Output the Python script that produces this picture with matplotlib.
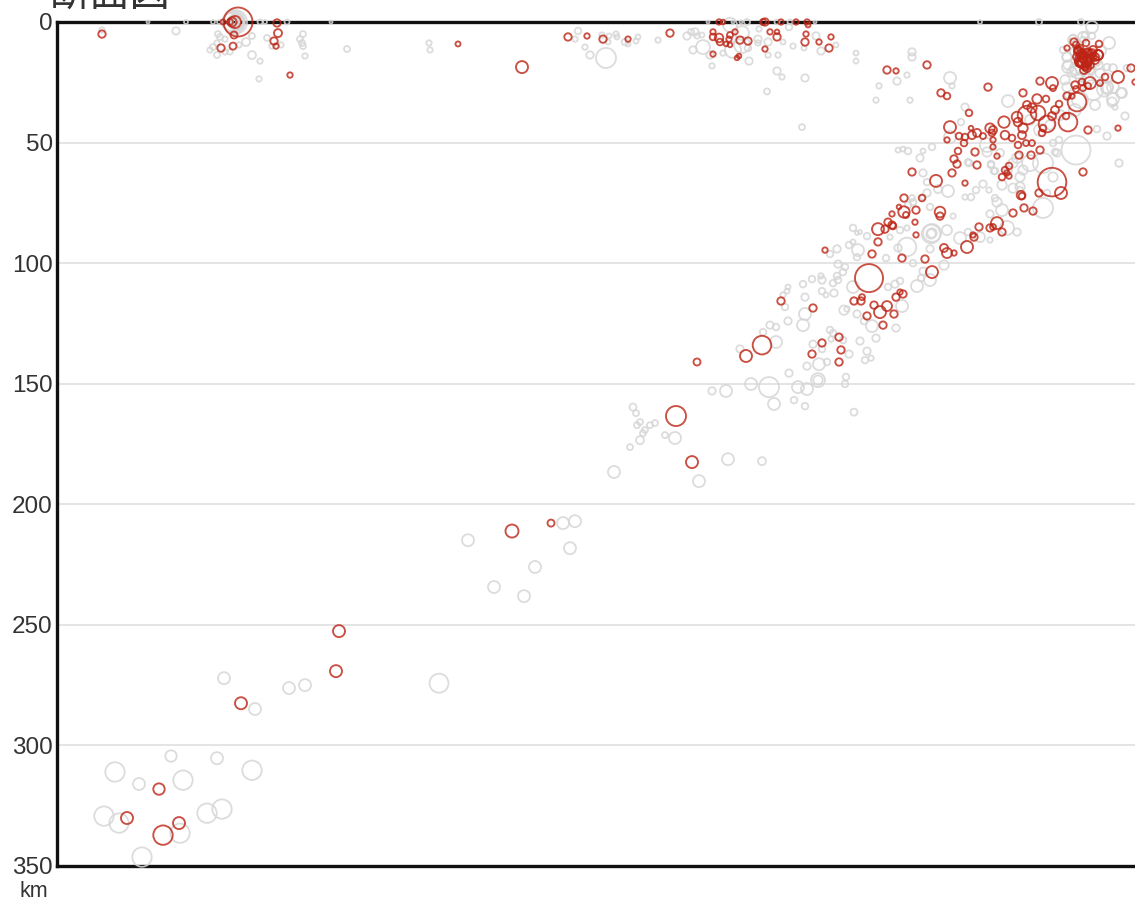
import numpy as np
import matplotlib
matplotlib.use('Agg')
import matplotlib.pyplot as plt

# 断面図: epicentre distance along the section, depth in km, circle radius
depth_ticks = [0, 50, 100, 150, 200, 250, 300, 350]

red_x = [102, 458, 522, 568, 587, 603, 628, 670, 223, 230,
         232, 235, 238, 234, 221, 233, 277, 278, 274, 276,
         290, 713, 713, 719, 720, 729, 735, 730, 726, 730,
         740, 748, 713, 739, 737, 719, 723, 765, 763, 781,
         796, 807, 808, 770, 777, 777, 806, 805, 819, 831,
         829, 765, 887, 896, 927, 941, 947, 988, 969, 950,
         947, 959, 965, 964, 972, 971, 977, 983, 990, 993,
         992, 1004, 1005, 1012, 993, 993, 975, 958, 954, 957,
         977, 997, 1019, 1031, 1040, 1018, 1026, 1032, 1022, 1023,
         1018, 1017, 1027, 1037, 1023, 1040, 1052, 1053, 1046, 1027,
         1032, 1038, 1047, 1043, 1042, 1052, 1059, 1055, 1067, 1072,
         1077, 1068, 1066, 1088, 1118, 1075, 1082, 1090, 1083, 1088,
         1076, 1100, 1105, 1118, 1131, 1135, 1074, 1067, 1086, 1099,
         1078, 1098, 1093, 912, 936, 952, 965, 1005, 1009, 1002,
         1009, 1007, 1021, 1039, 1052, 1061, 1083, 904, 922, 899,
         892, 904, 906, 916, 940, 940, 915, 888, 892, 878,
         885, 916, 878, 872, 902, 925, 944, 947, 825, 932,
         869, 781, 813, 854, 861, 862, 900, 903, 896, 874,
         887, 880, 894, 867, 883, 839, 822, 762, 746, 812,
         841, 839, 697, 676, 692, 551, 512, 339, 336, 241,
         159, 127, 179, 163, 1083, 1078, 1088, 1092, 1080, 1085,
         1086, 1082, 1090, 1080, 1084, 1088, 1076, 1095, 1083, 1087,
         1022, 1024, 1033, 1013, 979, 990, 997, 1002, 993, 974,
         967, 954, 973, 893, 1078, 1093, 1098, 1087, 1077, 1082,
         1087, 1083, 1090, 1095, 1080, 1083, 1090, 1085, 1083, 1081]
red_depth = [5, 9.1, 18.7, 6.2, 5.8, 7.1, 7.1, 4.6, 0, 0,
             0, 0, 0, 5.4, 10.8, 10, 0.4, 4.6, 7.9, 10,
             22, 4.1, 6.2, 6.6, 8.3, 7.1, 4.1, 5.4, 9.1, 9.5,
             7.5, 7.9, 13.3, 14.1, 14.9, 0, 0, 0, 0, 0,
             0, 0, 1.2, 4.1, 4.1, 6.2, 5, 8.3, 8.3, 6.2,
             10.8, 11.2, 19.9, 20.3, 17.8, 29.4, 30.7, 27, 37.7, 43.6,
             48.9, 47.3, 47.7, 50.2, 46.9, 44, 46, 47.3, 44, 44.8,
             46, 41.5, 46.9, 48.1, 48.9, 51.8, 53.9, 53.5, 56.8, 58.9,
             59.3, 55.6, 55.2, 55.2, 53.1, 51, 50.2, 50.2, 46.9, 44,
             41.5, 39.4, 38.6, 31.9, 29.4, 24.5, 25.3, 27.4, 31.9, 34.4,
             35.7, 37.7, 42.3, 44, 46, 39, 34, 36.5, 30.7, 30.7,
             33.2, 41.5, 39, 44.8, 44, 26.1, 24.9, 25.3, 27.4, 26.5,
             27.8, 25.3, 22.8, 22.8, 19.1, 24.9, 8.3, 10.8, 8.7, 9.1,
             11.6, 13.7, 14.5, 62.2, 65.9, 62.6, 66.8, 61.4, 59.7, 64.3,
             63.9, 62.6, 71.8, 70.9, 66.4, 70.9, 62.2, 73, 73, 76.7,
             79.6, 78.8, 80, 78, 78.8, 80.5, 83, 83, 84.2, 85.9,
             85.9, 88.3, 91.2, 96.2, 97.9, 98.3, 93.7, 95.8, 94.6, 103.7,
             106.2, 115.7, 118.6, 115.7, 115.7, 114.1, 112, 112.8, 114.1, 117.4,
             117.8, 120.3, 121.1, 121.9, 125.7, 130.7, 133.1, 134, 138.5, 137.7,
             136, 141, 141, 163.4, 182.5, 207.8, 211.1, 252.6, 269.2, 282.5,
             318.1, 330.1, 332.2, 337.2, 14.5, 12.4, 15.8, 12.9, 16.6, 18.2,
             15.8, 13.7, 17.8, 10.8, 19.9, 12.4, 9.5, 15.8, 16.6, 19.1,
             72.2, 77.1, 78.4, 79.2, 85, 85.4, 83.4, 87.1, 85, 89.2,
             93.3, 95.8, 88.3, 84.6, 11.6, 11.6, 13.7, 12.9, 14.5, 17,
             17, 14.9, 14.9, 14.5, 12.9, 12.4, 12.9, 18.7, 15.8, 16.6]
red_size = [3.7, 2.5, 6, 3.7, 2.7, 3.7, 2.7, 3.7, 2.5, 3,
            4.5, 6, 14.5, 3.5, 3.7, 3.5, 3.7, 4, 3.7, 2.7,
            2.7, 2.7, 3.3, 4.3, 3.3, 2.7, 2.7, 3, 2.3, 2.3,
            3.7, 3.7, 2.7, 2.3, 2.3, 2.7, 2.3, 3.7, 3, 2.7,
            2.7, 2.7, 2.5, 2.7, 2.3, 3.7, 2.7, 3.7, 2.7, 2.7,
            3.7, 2.7, 3.7, 2.7, 3.7, 3.7, 3.3, 3.7, 3.3, 6,
            2.7, 3.3, 3.3, 3.3, 4, 2.3, 4, 3, 4.7, 4,
            3.3, 5.7, 4.3, 3.3, 2.7, 2.7, 3.7, 3.3, 3.7, 3.7,
            3.7, 2.7, 3.7, 3.7, 3.7, 3.3, 3, 3, 4, 4.7,
            4.3, 5.3, 9.3, 4.7, 3.7, 3.7, 6, 3, 3.3, 4,
            4.7, 7.3, 8.3, 3.3, 3.3, 4, 3.3, 4, 3.7, 2.7,
            9.3, 9.3, 3.3, 3.7, 2.7, 3.7, 3.3, 6, 3, 3,
            3, 3, 3.3, 6, 3.7, 2.7, 3.7, 2.7, 3.3, 3.3,
            3.3, 5, 3.3, 3.7, 6, 3.7, 2.7, 3.3, 3.3, 3.3,
            2.7, 2.7, 4.3, 3.7, 14.3, 6, 3.7, 3.7, 3.3, 2.3,
            2.7, 5.7, 3, 3.7, 5.3, 3.7, 2.7, 3.7, 3.7, 6,
            3.7, 2.7, 3.7, 3.7, 3.7, 3.7, 4, 5, 2.7, 6,
            14, 3.7, 3.7, 3.7, 3.7, 3, 2.7, 3.7, 3.7, 3.7,
            5, 6, 3.7, 3.7, 3.7, 3.7, 3.7, 9.3, 6, 3.7,
            3.7, 3.7, 3.5, 10, 6, 3.5, 6.5, 6, 6, 6,
            5.7, 6, 6, 9.7, 5, 4, 5, 4, 5, 4,
            5, 4, 4, 3.3, 4, 3.7, 3.3, 4, 5, 4,
            3.3, 3.7, 3.7, 3.7, 3.7, 3.7, 6, 3.7, 3, 3.7,
            6, 2.7, 2.7, 3.3, 4, 4, 5, 4, 4, 4.7,
            4.7, 4.7, 4, 4, 3.3, 3, 3.3, 3.3, 8, 5]

gray_x = [148, 186, 213, 219, 260, 265, 287, 331, 235, 176,
          218, 220, 225, 246, 252, 267, 303, 300, 302, 303,
          305, 347, 252, 260, 259, 210, 213, 217, 225, 230,
          217, 239, 281, 272, 102, 429, 430, 578, 575, 585,
          590, 606, 602, 609, 616, 617, 608, 625, 628, 636,
          638, 658, 687, 691, 695, 697, 702, 693, 703, 710,
          723, 733, 742, 748, 749, 712, 730, 742, 758, 768,
          758, 768, 778, 783, 793, 777, 782, 805, 821, 816,
          804, 836, 856, 856, 759, 789, 747, 777, 790, 708,
          733, 741, 815, 802, 767, 912, 912, 907, 897, 879,
          876, 910, 950, 952, 965, 1008, 961, 987, 932, 898,
          903, 908, 923, 920, 950, 1076, 1057, 1053, 1059, 1097,
          1107, 1125, 1115, 1113, 1121, 1119, 1092, 1092, 1109, 1085,
          1073, 1067, 1068, 1072, 1065, 1083, 1093, 1107, 1080, 1100,
          1090, 1113, 1127, 1063, 1083, 980, 1039, 1081, 948, 938,
          923, 927, 969, 983, 976, 965, 991, 994, 1002, 1020,
          1013, 1030, 1053, 1020, 1047, 853, 857, 860, 867, 849,
          853, 858, 837, 830, 857, 886, 907, 898, 931, 931,
          930, 913, 923, 944, 930, 917, 921, 838, 845, 843,
          837, 838, 833, 821, 822, 812, 803, 788, 787, 783,
          822, 826, 834, 805, 785, 805, 788, 803, 770, 776,
          763, 776, 740, 853, 888, 895, 900, 902, 844, 847,
          857, 864, 872, 896, 876, 860, 830, 833, 831, 843,
          813, 822, 849, 867, 871, 865, 827, 819, 807, 789,
          846, 845, 818, 818, 798, 807, 769, 751, 726, 712,
          774, 794, 805, 854, 633, 636, 640, 637, 645, 650,
          655, 640, 643, 665, 630, 614, 675, 728, 762, 699,
          575, 563, 570, 468, 535, 494, 524, 439, 305, 289,
          224, 255, 115, 171, 217, 252, 139, 183, 104, 119,
          207, 222, 180, 142, 1075, 1101, 1095, 1088, 1078, 1104,
          927, 923, 912, 908, 930, 953, 971, 989, 968, 991,
          995, 1013, 1020, 997, 995, 1002, 990, 1043, 1017, 1007,
          980, 960, 968, 947, 932, 932, 890, 907, 913, 900,
          990, 1023, 1008, 1017, 1000, 987, 1055, 1043, 1083, 1073,
          1067, 1068, 1077, 1090, 1098, 1107, 1113, 1122, 1107, 1107,
          1080, 1067, 1068, 1112, 1060, 1050, 1075, 1095, 1040, 1030,
          233, 236, 238, 235, 231, 234, 237, 232, 236, 234]
gray_depth = [0, 0, 0, 0, 0, 0, 0, 0, 0, 3.7,
              5, 6.2, 7.1, 8.3, 5.8, 6.6, 5, 7.1, 8.7, 10,
              14.1, 11.2, 13.7, 16.2, 23.6, 11.6, 10.4, 13.7, 12.4, 12.4,
              8.7, 9.5, 9.5, 10, 3.3, 8.7, 11.6, 3.7, 7.1, 10.4,
              13.7, 14.9, 5.4, 5.8, 5, 6.2, 8.3, 8.3, 9.1, 7.9,
              6.2, 7.5, 5.8, 4.1, 4.1, 5.8, 5.4, 11.6, 10.4, 13.7,
              12.9, 11.6, 9.5, 10.8, 16.2, 18.2, 1.2, 4.6, 7.1, 8.3,
              8.7, 13.7, 13.7, 8.3, 10, 20.3, 22.8, 23.2, 12, 5.8,
              10.8, 9.5, 12.9, 16.2, 2.9, 2.1, 0, 0, 0, 0,
              0, 0, 0, 43.6, 28.8, 12.4, 14.5, 22, 24.5, 26.5,
              32.4, 32.4, 23.2, 26.5, 35.3, 32.8, 41.5, 51, 51.8, 53.1,
              52.7, 53.5, 53.5, 56.4, 47.7, 53.1, 54.3, 50.2, 48.9, 44.4,
              47.3, 39, 35.3, 31.9, 29.4, 58.5, 2.1, 5.8, 8.7, 5.4,
              6.6, 14.5, 17.8, 20.7, 24, 18.7, 28.2, 27, 22.8, 21.2,
              19.9, 19.1, 19.1, 11.6, 7.5, 0, 0, 0, 70.1, 69.3,
              62.6, 70.9, 58.5, 67.2, 69.7, 72.6, 59.3, 61.8, 67.6, 64.3,
              58.5, 58.5, 64.3, 69.7, 70.9, 85.4, 87.5, 87.1, 88.8, 92.5,
              91.2, 94.6, 94.1, 96.2, 97.5, 97.9, 93.3, 93.7, 87.9, 87.9,
              94.1, 100, 103.3, 100.8, 107, 109.5, 106.2, 100.4, 101.6, 103.7,
              105.3, 107, 108.3, 105.3, 107, 106.6, 108.7, 109.9, 111.6, 113.2,
              111.6, 113.2, 112.4, 114.1, 118.2, 121.1, 124, 125.7, 125.7, 126.5,
              128.6, 132.7, 135.6, 109.9, 109.9, 108.7, 107.4, 117.8, 119.5, 119,
              121.1, 124, 126.1, 126.9, 131.1, 132.3, 127.7, 129, 131.5, 131.9,
              133.6, 135.6, 137.7, 136.5, 139.4, 140.2, 141, 141.9, 142.7, 145.6,
              147.2, 150.1, 148.5, 148.5, 151.4, 152.2, 151.4, 150.1, 153, 153,
              158.4, 156.8, 159.3, 161.8, 159.7, 162.2, 165.9, 167.2, 169.2, 167.2,
              166.3, 173.4, 170.5, 171.3, 176.3, 186.6, 172.5, 181.3, 182.1, 190.4,
              207, 207.8, 218.2, 214.9, 226, 234.3, 238.1, 274.2, 275, 276.2,
              272.1, 284.9, 311, 304.4, 305.3, 310.3, 316, 314.4, 329.3, 332.2,
              328.1, 326.4, 336.4, 346.3, 12.5, 12, 16, 24, 20, 28,
              66.4, 72.6, 73, 75.9, 76.7, 80.5, 72.6, 69.7, 58.1, 58.9,
              61.8, 68.9, 68.4, 74.7, 73, 78, 79.6, 77.1, 87.1, 85.4,
              89.2, 89.6, 87.1, 86.3, 87.5, 87.5, 89.2, 85.4, 74.7, 86.3,
              90.4, 61.4, 61.4, 56.4, 54.3, 53.9, 53.9, 58.5, 6.2, 7.5,
              14.5, 18.7, 19.1, 19.9, 17.8, 18.7, 27, 29.4, 23.2, 27.4,
              32.4, 27, 30.3, 33.2, 38.6, 42.7, 36.5, 34.4, 44.8, 40.6,
              0, 0, 0, 0, 0, 0, 0, 0, 0, 0]
gray_size = [1.5, 2, 2, 2, 2.5, 2, 2.5, 1.5, 12, 3.7,
             3, 3, 2.7, 4, 3, 3, 3, 3, 3, 3,
             2.7, 3, 4, 2.7, 2.7, 2.7, 3, 3, 2.7, 2.7,
             2.7, 2.7, 2.7, 2.7, 2.7, 2.7, 2.7, 3.3, 2.7, 2.7,
             3.7, 10, 2.7, 2.5, 2.7, 2.5, 2.5, 3.3, 2.5, 2.5,
             2.5, 2.7, 3.7, 3, 3.7, 2.7, 2.5, 3.7, 7, 3.7,
             2.7, 8, 8, 3.3, 3.7, 2.7, 7, 7, 3.7, 3.7,
             2.7, 2.7, 2.7, 2.5, 2.7, 3.7, 2.7, 3.7, 3.7, 3.7,
             2.5, 2.5, 2.5, 2.5, 2.7, 3.3, 3, 2.5, 2.5, 1.5,
             1.5, 1.5, 1.5, 3, 3, 3.7, 3.7, 2.7, 3.7, 2.7,
             2.7, 2.7, 6, 2.7, 3.7, 6, 3.3, 7, 3.3, 2.5,
             2.5, 3.3, 2.5, 3.7, 6, 14.5, 3.7, 3.3, 3.3, 3.3,
             3.7, 3.7, 2.7, 6, 5, 3.7, 6, 3.3, 6, 3.3,
             3.3, 4.7, 4.7, 4.7, 4.7, 8, 10, 6, 4.7, 4.7,
             4, 4, 3.3, 3.3, 3.3, 2, 3, 3, 6, 4,
             3.7, 3.7, 3.3, 3.7, 3.3, 2.7, 3.3, 3.3, 4.7, 4.7,
             4.7, 8, 4.7, 3.3, 3.3, 3.3, 2, 2, 3.3, 3.3,
             2.5, 6, 3.7, 3.3, 3.3, 3.3, 9.3, 3.7, 9.3, 4.7,
             3.7, 3.3, 3.7, 4.7, 6, 6, 3.3, 3.7, 3.3, 3.3,
             3.3, 3.3, 3.3, 2.7, 3.7, 3.3, 3.3, 2.5, 2.5, 2.7,
             3.3, 2.5, 3.7, 3.7, 3.3, 6, 3.7, 6, 3.7, 3.3,
             3.3, 6, 3.7, 6, 3.3, 3.7, 3.3, 6, 4.7, 2.7,
             3.7, 3.3, 6, 3.7, 3.7, 3.7, 3.3, 3.3, 2.7, 3.3,
             3.7, 3.3, 3.7, 3.7, 2.7, 3.3, 3.3, 6, 3.7, 3.7,
             3.3, 3.3, 7, 4.7, 6, 6, 10, 6, 6, 3.7,
             6, 3.3, 3.3, 3.5, 3.5, 3, 3, 3, 3, 3,
             3, 4, 3, 3, 3, 6, 6, 6, 4, 6,
             6, 6, 6, 6, 6, 6, 6, 9.5, 6, 6,
             6, 6, 9.7, 5.7, 6, 9.7, 6, 9.7, 9.7, 9.7,
             9.7, 9.7, 9.7, 9.7, 5, 5, 6, 6, 8, 7,
             3.3, 2.7, 3, 3.3, 3.3, 2.7, 3.3, 2.7, 3.3, 3.3,
             3.3, 4.7, 4.7, 4.7, 3.3, 6, 3.7, 10, 3.7, 7,
             5, 6, 3.3, 5, 9, 4.7, 2.7, 2.7, 3.3, 3.3,
             2.7, 4.7, 4, 5, 4, 4.7, 3.3, 10, 5, 5,
             4.7, 6, 7, 5, 4.7, 3.3, 6, 5, 4.7, 6,
             8, 4.7, 3.3, 4.7, 5, 4.7, 6, 5, 6, 5,
             10, 8, 6, 4, 9, 11, 7, 5, 3, 2]


def area(radius):
    # radius in pixels -> scatter area in points^2 at dpi 100
    return (2 * np.array(radius) * 0.72) ** 2


fig = plt.figure(figsize=(11.35, 9.02), dpi=100)
ax = fig.add_axes([57 / 1135, 1 - 866 / 902, (1135 - 57) / 1135, (866 - 22) / 902])
ax.set_xlim(57, 1135)
ax.set_ylim(350, 0)

ax.set_yticks(depth_ticks)
ax.set_yticklabels([str(t) for t in depth_ticks], family='Liberation Sans', fontsize=17.5, color='#333333')
ax.set_xticks([])
ax.tick_params(axis='y', length=0, pad=3)
ax.grid(axis='y', color='#e4e4e4', linewidth=1.4)
ax.set_axisbelow(True)

for side in ['left', 'top', 'bottom']:
    ax.spines[side].set_linewidth(2.4)
    ax.spines[side].set_color('#111111')
ax.spines['right'].set_visible(False)

ax.scatter(gray_x, gray_depth, s=area(gray_size), facecolors='none', edgecolors='#d6d6d6',
           linewidths=1.3, alpha=0.85, clip_on=False, zorder=3)
ax.scatter(red_x, red_depth, s=area(red_size), facecolors='none', edgecolors='#bd2415',
           linewidths=1.35, alpha=0.8, clip_on=False, zorder=4)

fig.text(50 / 1135, 1 - 6 / 902, '断面図', family=['Noto Sans CJK JP', 'DejaVu Sans'],
         fontsize=29, color='#333333', ha='left', va='baseline')
fig.text(34 / 1135, 1 - 897 / 902, 'km', family='Liberation Sans', fontsize=15.5,
         color='#333333', ha='center', va='baseline')

fig.savefig('out.png', dpi=100)
